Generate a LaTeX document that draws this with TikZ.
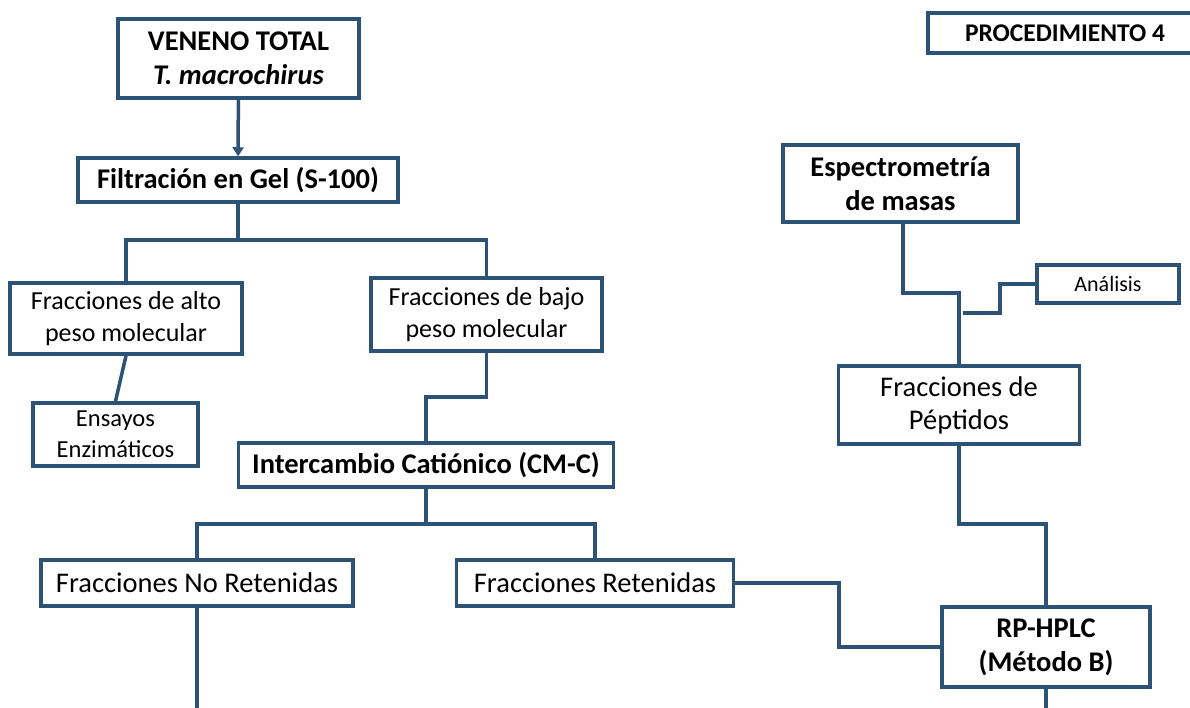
\documentclass[tikz,border=0pt]{standalone}
\usepackage{fontspec}
\setmainfont{Carlito}
\usetikzlibrary{arrows.meta}
\definecolor{boxblue}{RGB}{44,82,118}

\begin{document}
\begin{tikzpicture}[x=1pt,y=-1pt,
  box/.style={draw=boxblue,line width=3.5pt,inner sep=0pt,align=center,font=\fontsize{26}{32}\selectfont},
  lbox/.style={box,font=\fontsize{28.5}{33}\selectfont},
  bbox/.style={box,font=\fontsize{28.5}{34}\selectfont\bfseries},
  sbox/.style={box,font=\fontsize{22}{28}\selectfont},
  link/.style={draw=boxblue,line width=3.5pt}]
\useasboundingbox (0,0) rectangle (1190,707);
% boxes
\node[bbox,minimum width=241pt,minimum height=79pt] (veneno) at (238.5,58.5) {VENENO TOTAL\\\textit{T. macrochirus}};
\node[bbox,minimum width=320pt,minimum height=44pt] (filtr) at (238,180) {Filtración en Gel (S-100)};
\node[box,minimum width=232pt,minimum height=71pt] (alto) at (126,318.5) {Fracciones de alto\\peso molecular};
\node[box,minimum width=231pt,minimum height=73pt] (bajo) at (486.5,314.5) {Fracciones de bajo\\peso molecular};
\node[sbox,minimum width=165pt,minimum height=63pt,font=\fontsize{24.5}{31}\selectfont] (ensayos) at (115.5,434.5) {Ensayos\\Enzimáticos};
\node[bbox,minimum width=375pt,minimum height=44pt] (inter) at (426,465) {Intercambio Catiónico (CM-C)};
\node[lbox,minimum width=312pt,minimum height=46pt] (noret) at (197,583) {Fracciones No Retenidas};
\node[lbox,minimum width=277pt,minimum height=46pt] (ret) at (595,583) {Fracciones Retenidas};
\node[bbox,minimum width=208pt,minimum height=80pt] (hplc) at (1046,647) {RP-HPLC\\(Método B)};
\node[lbox,minimum width=241pt,minimum height=78pt] (pept) at (959,405) {Fracciones de\\Péptidos};
\node[bbox,minimum width=235pt,minimum height=77pt] (espec) at (900.5,183.5) {Espectrometría\\de masas};
\node[bbox,minimum width=274pt,minimum height=40pt,font=\fontsize{25.5}{30}\selectfont\bfseries] (proc) at (1065,33) {PROCEDIMIENTO 4};
\node[sbox,minimum width=142pt,minimum height=38pt] (analisis) at (1108,284) {Análisis};
% junctions
\coordinate (split1) at (238,240);
\coordinate (b1) at (426,397);
\coordinate (split2) at (426,524);
\coordinate (bend) at (839,620);
\coordinate (p1) at (959,524);
\coordinate (e1) at (903,293);
\coordinate (a1) at (1000,313);
\coordinate (aEnd) at (963,313);
\coordinate (noretEnd) at (197,712);
\coordinate (hplcEnd) at (1046,712);
% connectors
\draw[link,-{Triangle[width=11pt,length=9pt]}] (veneno) -- (filtr);
\draw[link] (filtr.south) -- (split1);
\draw[link] (alto.north) |- (split1) -| (bajo.north);
\draw[link] (alto.south) -- (ensayos.north);
\draw[link] (bajo.south) |- (b1) -- (inter.north);
\draw[link] (inter.south) -- (split2);
\draw[link] (noret.north) |- (split2) -| (ret.north);
\draw[link] (noret.south) -- (noretEnd);
\draw[link] (ret.east) -| (bend) |- (hplc.west);
\draw[link] (hplc.south) -- (hplcEnd);
\draw[link] (hplc.north) |- (p1) -- (pept.south);
\draw[link] (pept.north) |- (e1) -- (e1 |- espec.south);
\draw[link] (analisis.west) -| (a1) -- (aEnd);
\end{tikzpicture}
\end{document}
